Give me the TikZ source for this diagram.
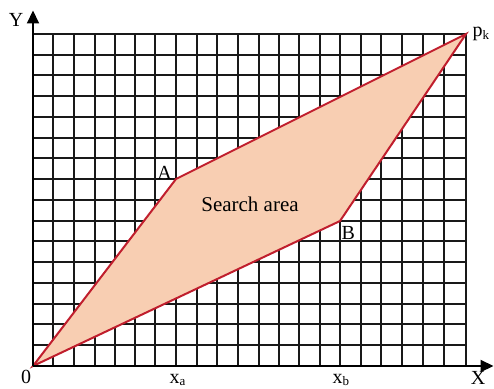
\documentclass[tikz,border=0pt]{standalone}
\usepackage{fontspec}
\setmainfont{Liberation Serif}
\usetikzlibrary{arrows.meta}
\definecolor{regionfill}{RGB}{248,206,178}
\definecolor{regionline}{RGB}{192,30,45}
\newcommand{\sbs}[1]{\raisebox{-2.5pt}{\fontsize{13}{13}\selectfont #1}}
\begin{document}
\begin{tikzpicture}[x=1pt,y=1pt,
  gridline/.style={black!90, line width=2pt},
  axisline/.style={black, line width=2pt, -{Triangle[length=13pt,width=12pt]}},
  region/.style={draw=regionline, fill=regionfill, line width=2pt, line join=miter},
  lbl/.style={font=\fontsize{20}{20}\selectfont, inner sep=0pt, anchor=base},
  lblw/.style={lbl, anchor=base west},
  biglbl/.style={font=\fontsize{21}{21}\selectfont, inner sep=0pt, anchor=base}]
\useasboundingbox (0,0) rectangle (494,388);
% grid: columns (pixel x) and rows (y = 22 + j*20.75, snapped)
\foreach \gx in {53,74,95,115,135,155,176,197,217,238,259,279,299,320,340,361,381,402,423,444,466}
  \draw[gridline] (\gx,22) -- (\gx,354);
\foreach \j in {1,...,16}{
  \pgfmathsetmacro{\gy}{round(22+\j*20.75)}
  \draw[gridline] (33,\gy) -- (466,\gy);
}
\coordinate (O) at (33,22);
\coordinate (A) at (176,209);
\coordinate (B) at (340,167);
\coordinate (P) at (466,354);
\draw[region] (O) -- (A) -- (P) -- (B) -- cycle;
\coordinate (Ytip) at (33,377.5);
\coordinate (Xtip) at (493.5,22);
\draw[axisline] (O) -- (Ytip);
\draw[axisline] (O) -- (Xtip);
\node[lbl] (ylab) at (16,361.3) {Y};
\node[lbl] (xlab) at (478,3.5) {X};
\node[lbl] (olab) at (26,5) {0};
\node[lblw] (xalab) at (169.5,5) {x\sbs{a}};
\node[lblw] (xblab) at (332.5,5) {x\sbs{b}};
\node[lblw] (pklab) at (472.5,351) {p\sbs{k}};
\node[lbl] (alab) at (164.5,208.7) {A};
\node[lbl] (blab) at (348.3,148) {B};
\node[biglbl] (search) at (250,176.3) {Search area};
\end{tikzpicture}
\end{document}
